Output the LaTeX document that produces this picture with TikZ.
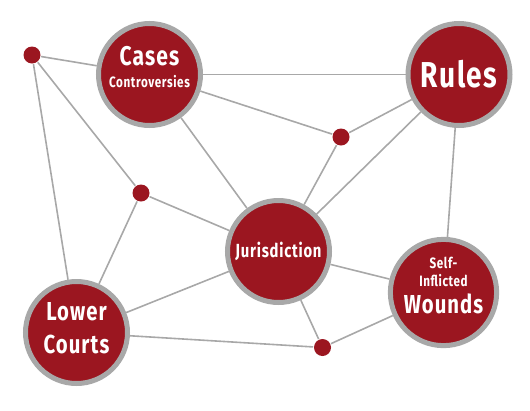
\documentclass[tikz,border=0pt]{standalone}
\usepackage{fontspec}
\setmainfont{Fira Sans}[FakeStretch=0.78,LetterSpace=4]
\usetikzlibrary{backgrounds}
\definecolor{wine}{HTML}{9B1620}
\definecolor{rim}{HTML}{A8A8A8}

\begin{document}
\begin{tikzpicture}[
    x=1pt, y=-1pt,
    line width=1.6pt,
    hub/.style={circle, fill=wine, draw=rim, line width=5pt,
      minimum size=102pt, inner sep=0pt, text=white, align=center},
    junction/.style={circle, fill=wine, minimum size=17pt, inner sep=0pt},
    link/.style={draw=rim, line width=1.6pt}
  ]
    \useasboundingbox (0,0) rectangle (530,410);
    % big circles
    \node[hub, text depth=15pt, font=\bfseries\fontsize{15}{22}\selectfont] (cases) at (149.5,74.5)
      {\fontsize{27}{22}\selectfont Cases\\\fontsize{15}{22}\selectfont Controversies};
    \node[hub, font=\bfseries\fontsize{36}{36}\selectfont] (rules) at (459,74.5) {Rules};
    \node[hub, font=\bfseries\fontsize{19}{19}\selectfont] (juris) at (278.5,251.5) {Jurisdiction};
    \node[hub, text depth=9pt, font=\bfseries\fontsize{26}{33}\selectfont] (lower) at (76.5,332.5)
      {Lower\\Courts};
    \node[hub, text depth=14.5pt, font=\bfseries\fontsize{15}{18}\selectfont] (wounds) at (443.5,292.5)
      {Self-\\Inflicted\\[6pt]\fontsize{26}{18}\selectfont Wounds};
    % small dots
    \node[junction] (ja) at (32,55) {};
    \node[junction] (jb) at (141,193) {};
    \node[junction] (jc) at (341,137) {};
    \node[junction] (jd) at (322.5,347.5) {};
    \begin{scope}[on background layer]
      \draw[link] (ja) -- (cases);
      \draw[link] (ja) -- (jb);
      \draw[link] (ja) -- (lower);
      \draw[link] (cases) -- (rules);
      \draw[link] (cases) -- (jc);
      \draw[link] (cases) -- (juris);
      \draw[link] (rules) -- (jc);
      \draw[link] (rules) -- (juris);
      \draw[link] (rules) -- (wounds);
      \draw[link] (jc) -- (juris);
      \draw[link] (jb) -- (juris);
      \draw[link] (jb) -- (lower);
      \draw[link] (lower) -- (juris);
      \draw[link] (lower) -- (jd);
      \draw[link] (juris) -- (wounds);
      \draw[link] (juris) -- (jd);
      \draw[link] (jd) -- (wounds);
    \end{scope}
  \end{tikzpicture}
\end{document}
